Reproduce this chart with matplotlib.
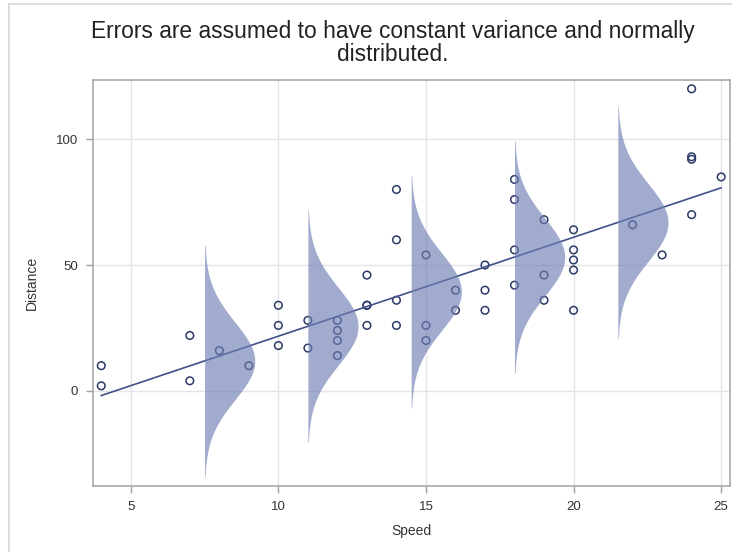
import numpy as np
import matplotlib
matplotlib.use("Agg")
import matplotlib.pyplot as plt
from matplotlib.lines import Line2D

plt.rcParams['font.family'] = ['Liberation Sans', 'DejaVu Sans']

speed = [4, 4, 7, 7, 8, 9, 10, 10, 10, 11, 11, 12, 12, 12, 12, 13, 13, 13, 13,
         14, 14, 14, 14, 15, 15, 15, 16, 16, 17, 17, 17, 18, 18, 18, 18, 19, 19,
         19, 20, 20, 20, 20, 20, 22, 23, 24, 24, 24, 24, 25]
dist = [2, 10, 4, 22, 16, 10, 18, 26, 34, 17, 28, 14, 20, 24, 28, 26, 34, 34, 46,
        26, 36, 60, 80, 20, 26, 54, 32, 40, 32, 40, 50, 42, 56, 76, 84, 36, 46,
        68, 32, 48, 52, 56, 64, 66, 54, 70, 92, 93, 120, 85]

fit_intercept = -17.58
fit_slope = 3.93
resid_sd = 15.38
curve_x = [7.5, 11, 14.5, 18, 21.5]
curve_peak_width = 1.7

x_ticks = [5, 10, 15, 20, 25]
y_ticks = [0, 50, 100]

fig = plt.figure(figsize=(7.32, 5.52), dpi=100)
ax = fig.add_axes([93/732, 1-486/552, (730-93)/732, (486-80)/552])

ax.set_xlim(3.72, 25.3)
ax.set_ylim(-37.8, 123.5)

for v in x_ticks:
    ax.axvline(v, color='#e4e4e8', lw=1, zorder=0)
for v in y_ticks:
    ax.axhline(v, color='#e4e4e8', lw=1, zorder=0)

ax.scatter(speed, dist, s=30, facecolors='none', edgecolors='#2c3a66',
           linewidths=1.1, zorder=2)

xl = np.array([min(speed), max(speed)])
ax.plot(xl, fit_intercept + fit_slope * xl, color='#3f5188', lw=1.2, zorder=3)

for cx in curve_x:
    mu = fit_intercept + fit_slope * cx
    yy = np.linspace(mu - 3 * resid_sd, mu + 3 * resid_sd, 300)
    dens = np.exp(-0.5 * ((yy - mu) / resid_sd) ** 2)
    ax.fill_betweenx(yy, cx, cx + curve_peak_width * dens,
                     color='#6f7eb3', alpha=0.65, lw=0, zorder=4)

ax.set_xticks(x_ticks)
ax.set_yticks(y_ticks)
ax.tick_params(axis='both', colors='#a0a0a0', labelcolor='#333333',
               labelsize=9.5, length=5, width=1, pad=6)
for s in ax.spines.values():
    s.set_color('#a8a8a8')
    s.set_linewidth(1.2)

ax.set_xlabel('Speed', fontsize=10, color='#333333', labelpad=8)
ax.set_ylabel('Distance', fontsize=10, color='#333333', labelpad=12)

fig.text(393/732, 1-43/552, 'Errors are assumed to have constant variance and normally\ndistributed.',
         ha='center', va='center', fontsize=16.4, color='#222222', linespacing=1.0)

fig.add_artist(Line2D([9/732, 9/732], [0, 1-4/552], color='#d8d8d8', lw=1.2,
                      transform=fig.transFigure))
fig.add_artist(Line2D([9/732, 1], [1-4/552, 1-4/552], color='#d8d8d8', lw=1.2,
                      transform=fig.transFigure))

fig.savefig('out.png', dpi=100)
